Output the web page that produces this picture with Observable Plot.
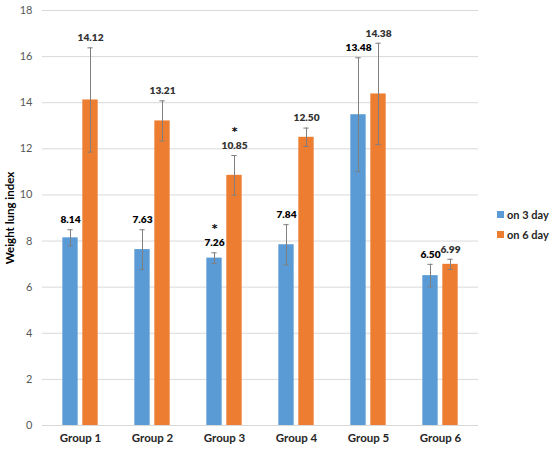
<!DOCTYPE html>
<html>
<head>
<meta charset="utf-8">
<script src="https://cdn.jsdelivr.net/npm/d3@7"></script>
<script src="https://cdn.jsdelivr.net/npm/@observablehq/plot@0.6"></script>
<style>
  body { margin: 0; background: #fff; font-family: Lato, "Open Sans", sans-serif; }
  #wrap { position: relative; width: 550px; height: 450px; }
  #legend { position: absolute; left: 497px; top: 204px; font: bold 11px Lato, sans-serif; color: #262626; }
  #legend div { display: flex; align-items: center; height: 20px; }
  #legend span.sw { display: inline-block; width: 7px; height: 7px; margin-right: 3px; }
</style>
</head>
<body>
<div id="wrap"><div id="chart"></div>
  <div id="legend"></div>
</div>
<script>
const groups = ["Group 1", "Group 2", "Group 3", "Group 4", "Group 5", "Group 6"];
const seriesNames = ["on 3 day", "on 6 day"];
const day3 = [8.14, 7.63, 7.26, 7.84, 13.48, 6.50];
const day3Err = [0.35, 0.86, 0.23, 0.87, 2.47, 0.49];
const day6 = [14.12, 13.21, 10.85, 12.50, 14.38, 6.99];
const day6Err = [2.26, 0.87, 0.86, 0.40, 2.20, 0.22];
const day3Sig = ["", "", "*", "", "", ""];
const day6Sig = ["", "", "*", "", "", ""];
const yTicks = [0, 2, 4, 6, 8, 10, 12, 14, 16, 18];
const colors = ["#5b9bd5", "#ed7d31"];

const rows = groups.flatMap((g, i) => [
  {group: g, series: seriesNames[0], value: day3[i], err: day3Err[i], sig: day3Sig[i], label: day3[i].toFixed(2)},
  {group: g, series: seriesNames[1], value: day6[i], err: day6Err[i], sig: day6Sig[i], label: day6[i].toFixed(2)}
]);
const s3 = rows.filter(d => d.series === seriesNames[0]);
const s6 = rows.filter(d => d.series === seriesNames[1]);

const W = 550, ML = 42, MR = 72;
const band = (W - ML - MR) / groups.length;
const barW = 16, off = 10, capW = 6;
const inL3 = band / 2 - off - barW / 2, inR3 = band / 2 + off - barW / 2;
const capIn = (band - capW) / 2;

const font = "Lato, 'Open Sans', sans-serif";
const errColor = "#7f7f7f";

function seriesMarks(data, color, dx, inL, inR, labelFill) {
  return [
    Plot.barY(data, {x: "group", y: "value", fill: color, insetLeft: inL, insetRight: inR}),
    Plot.ruleX(data, {x: "group", y1: d => d.value - d.err, y2: d => d.value + d.err, stroke: errColor, strokeWidth: 1, dx}),
    Plot.tickY(data, {x: "group", y: d => d.value + d.err, stroke: errColor, strokeWidth: 1, dx, insetLeft: capIn, insetRight: capIn}),
    Plot.tickY(data, {x: "group", y: d => d.value - d.err, stroke: errColor, strokeWidth: 1, dx, insetLeft: capIn, insetRight: capIn}),
    Plot.text(data, {x: "group", y: d => d.value + d.err, text: "label", dx, dy: -10, fill: labelFill, fontWeight: 800, fontSize: 10.2, fontFamily: font}),
    Plot.text(data.filter(d => d.sig), {x: "group", y: d => d.value + d.err, text: "sig", dx, dy: -24, fill: "#000", fontWeight: "bold", fontSize: 11, fontFamily: "'DejaVu Sans', sans-serif"})
  ];
}

const chart = Plot.plot({
  width: W, height: 450,
  marginLeft: ML, marginRight: MR, marginTop: 10, marginBottom: 25,
  style: {fontFamily: font, background: "#fff"},
  x: {type: "band", domain: groups, padding: 0, label: null},
  y: {domain: [0, 18], label: null},
  marks: [
    Plot.gridY(yTicks, {stroke: "#d9d9d9", strokeOpacity: 1, strokeWidth: 1}),
    Plot.ruleY([0], {stroke: "#d9d9d9", strokeWidth: 1}),
    ...seriesMarks(s3, colors[0], -off, inL3, inR3, "#000"),
    ...seriesMarks(s6, colors[1], off, inR3, inL3, "#333"),
    Plot.axisY({ticks: yTicks, tickSize: 0, tickPadding: 10, fontSize: 11, color: "#595959", label: "Weight lung index", labelAnchor: "center", labelOffset: 37, labelArrow: "none"}),
    Plot.axisX({tickSize: 0, tickPadding: 8, fontSize: 11.5, fontWeight: "bold", color: "#262626", label: null})
  ]
});
document.getElementById("chart").appendChild(chart);

// style the y-axis label bold
chart.querySelectorAll("[aria-label='y-axis label'] text, [aria-label='y-axis label']").forEach(el => {
  el.setAttribute("font-weight", "bold");
  el.setAttribute("font-size", "11.5");
  el.setAttribute("fill", "#000");
});

const legend = document.getElementById("legend");
seriesNames.forEach((n, i) => {
  const row = document.createElement("div");
  row.innerHTML = `<span class="sw" style="background:${colors[i]}"></span>${n}`;
  legend.appendChild(row);
});
</script>
</body>
</html>
